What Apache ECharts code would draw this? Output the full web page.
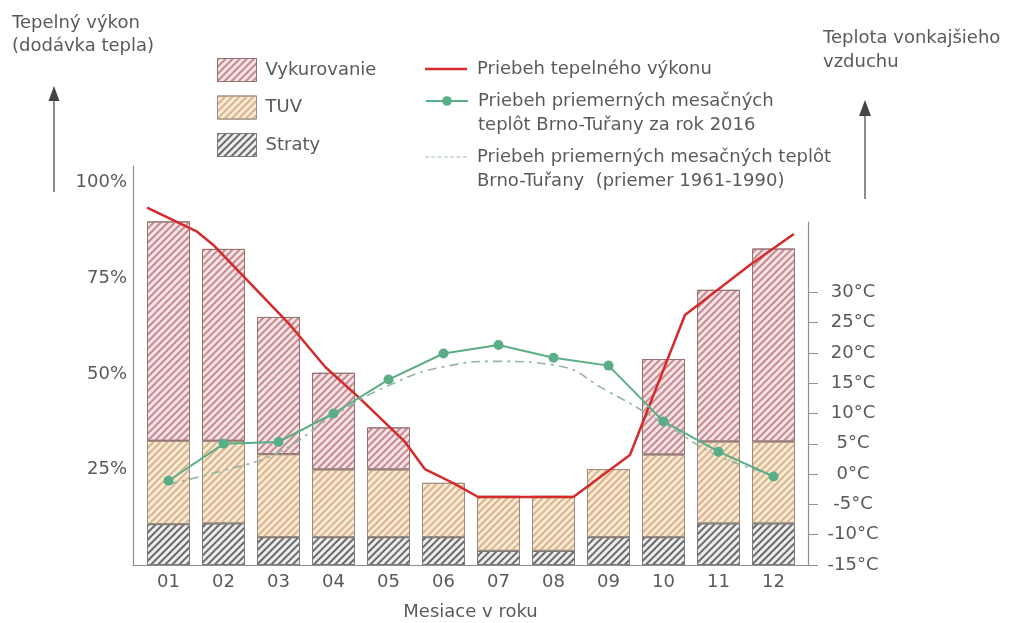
<!DOCTYPE html>
<html>
<head>
<meta charset="utf-8">
<script src="https://cdn.jsdelivr.net/npm/echarts@6/dist/echarts.min.js"></script>
<style>
  html, body { margin: 0; padding: 0; background: #fff; }
  #main { width: 1013px; height: 623px; }
</style>
</head>
<body>
<div id="main"></div>
<script>
// months on the x axis
const months = [1, 2, 3, 4, 5, 6, 7, 8, 9, 10, 11, 12];
const monthLabels = ["01", "02", "03", "04", "05", "06", "07", "08", "09", "10", "11", "12"];

// bar parts in % of heat output
const losses = [10.7, 10.9, 7.3, 7.3, 7.3, 7.3, 3.7, 3.7, 7.3, 7.3, 10.9, 10.9];
const hotWater = [21.8, 21.6, 21.7, 17.7, 17.7, 14.2, 14.4, 14.4, 17.8, 21.6, 21.4, 21.4];
const heating = [57.4, 50.2, 35.9, 25.3, 11.0, 0, 0, 0, 0, 25.0, 39.7, 50.5];

// heat output curve (month position, %)
const powerX = [0.61, 1.52, 1.81, 3.21, 3.85, 4.45, 5.30, 5.66, 6.17, 6.63, 8.36, 9.39, 10.39, 11.57, 12.37];
const powerY = [93.5, 87.2, 83.8, 62.8, 51.8, 44.0, 32.2, 25.1, 21.5, 17.8, 17.8, 28.8, 65.4, 78.5, 86.6];

// monthly mean temperatures, °C
const temp2016 = [-1.1, 5.0, 5.3, 10.0, 15.6, 19.9, 21.3, 19.2, 17.9, 8.7, 3.7, -0.4];
const tempNormal = [-1.6, 0.6, 3.6, 9.6, 14.6, 17.7, 18.6, 18.0, 13.6, 8.4, 3.0, -0.1];

// axis ticks
const percentTicks = [25, 50, 75, 100];
const tempTicks = [-15, -10, -5, 0, 5, 10, 15, 20, 25, 30];

const names = {
  heat: "Vykurovanie",
  water: "TUV",
  loss: "Straty",
  power: "Priebeh tepelného výkonu",
  t2016: "Priebeh priemerných mesačných\nteplôt Brno-Tuřany za rok 2016",
  tNorm: "Priebeh priemerných mesačných teplôt\nBrno-Tuřany  (priemer 1961-1990)"
};

const textColor = "#5a5a5a";
const axisColor = "#8e8e8e";
const font = "DejaVu Sans";

function hatch(color) {
  return {
    symbol: "rect",
    symbolSize: 1,
    dashArrayX: [1, 0],
    dashArrayY: [1.2, 2.4],
    rotation: -Math.PI / 4,
    color: color
  };
}

function pairs(values) {
  return months.map((m, i) => [values[i] > 0 ? values[i] : "-", m]);
}

// legend text with an empty first line so the icon sits on the first real line
const firstLineLegend = (n) => " \n" + n;
const legendText = { fontFamily: font, fontSize: 18, color: textColor, lineHeight: 24, padding: [0, 0, 0, 5] };

var myChart = echarts.init(document.getElementById("main"));

var option = {
  animation: false,
  textStyle: { fontFamily: font },
  title: [
    {
      text: "Tepelný výkon\n(dodávka tepla)",
      left: 12, top: 12, padding: 0,
      textStyle: { fontFamily: font, fontSize: 18, fontWeight: "normal", color: textColor, lineHeight: 23 }
    },
    {
      text: "Teplota vonkajšieho\nvzduchu",
      left: 823, top: 26, padding: 0,
      textStyle: { fontFamily: font, fontSize: 18, fontWeight: "normal", color: textColor, lineHeight: 24 }
    }
  ],
  legend: [
    {
      orient: "vertical", left: 217, top: 58, padding: 0,
      itemWidth: 39, itemHeight: 23, itemGap: 13.5, icon: "rect",
      selectedMode: false,
      itemStyle: { borderWidth: 1 },
      textStyle: { fontFamily: font, fontSize: 18, color: textColor, padding: [0, 0, 0, 4] },
      data: [names.heat, names.water, names.loss]
    },
    {
      left: 425, top: 57, padding: 0,
      itemWidth: 42, itemHeight: 2.5, selectedMode: false,
      textStyle: legendText,
      data: [{ name: names.power, icon: "rect" }]
    },
    {
      left: 425, top: 65, padding: 0,
      itemWidth: 42, itemHeight: 12, selectedMode: false,
      formatter: firstLineLegend,
      textStyle: legendText,
      data: [names.t2016]
    },
    {
      left: 425, top: 121, padding: 0,
      itemWidth: 42, itemHeight: 1.5, selectedMode: false,
      formatter: firstLineLegend,
      textStyle: legendText,
      data: [{
        name: names.tNorm,
        icon: "path://M0,0h4v1h-4zM6,0h4v1h-4zM12,0h4v1h-4zM18,0h4v1h-4zM24,0h4v1h-4zM30,0h4v1h-4zM36,0h4v1h-4z"
      }]
    }
  ],
  grid: [
    { left: 133, right: 205, top: 166, bottom: 58, outerBoundsMode: "none" },
    { left: 133, right: 205, top: 222, bottom: 58, outerBoundsMode: "none" }
  ],
  xAxis: [
    {
      type: "value", gridIndex: 0, min: 0.3545, max: 12.627,
      splitLine: { show: false },
      axisLine: { show: true, lineStyle: { color: axisColor, width: 1.2 } },
      axisTick: { show: false },
      axisLabel: {
        customValues: months,
        formatter: (v) => monthLabels[v - 1],
        margin: 8, fontSize: 18, color: textColor, fontFamily: font
      },
      name: "Mesiace v roku", nameLocation: "middle", nameGap: 38,
      nameTextStyle: { fontSize: 18, color: textColor, fontFamily: font }
    },
    { type: "value", gridIndex: 1, min: 0.3545, max: 12.627, show: false }
  ],
  yAxis: [
    {
      type: "value", gridIndex: 0, min: 0, max: 104.4,
      splitLine: { show: false },
      axisLine: { show: true, lineStyle: { color: axisColor, width: 1.2 } },
      axisTick: { show: false },
      axisLabel: {
        customValues: percentTicks,
        formatter: (v) => v + "%",
        margin: 6, fontSize: 18, color: textColor, fontFamily: font
      }
    },
    {
      type: "value", gridIndex: 1, position: "right", min: -15, max: 41.6,
      splitLine: { show: false },
      axisLine: { show: true, lineStyle: { color: axisColor, width: 1.2 } },
      axisTick: { show: true, length: 10, customValues: tempTicks, lineStyle: { color: axisColor } },
      axisLabel: {
        customValues: tempTicks,
        formatter: (v) => v + "°C",
        align: "center", margin: 45, fontSize: 18, color: textColor, fontFamily: font
      }
    }
  ],
  series: [
    {
      name: names.loss, type: "bar", stack: "all", barWidth: 43,
      xAxisIndex: 0, yAxisIndex: 0, encode: { x: 1, y: 0 },
      itemStyle: { color: "#ededed", borderColor: "#7a7a7a", borderWidth: 1, decal: hatch("#6a6a6a") },
      data: pairs(losses)
    },
    {
      name: names.water, type: "bar", stack: "all", barWidth: 43,
      xAxisIndex: 0, yAxisIndex: 0, encode: { x: 1, y: 0 },
      itemStyle: { color: "#fbe9d2", borderColor: "#9c8c80", borderWidth: 1, decal: hatch("#d6b48f") },
      data: pairs(hotWater)
    },
    {
      name: names.heat, type: "bar", stack: "all", barWidth: 43,
      xAxisIndex: 0, yAxisIndex: 0, encode: { x: 1, y: 0 },
      itemStyle: { color: "#f9e1e4", borderColor: "#947274", borderWidth: 1, decal: hatch("#bf8d92") },
      data: pairs(heating)
    },
    {
      name: names.power, type: "line", xAxisIndex: 0, yAxisIndex: 0,
      symbol: "none", color: "#d42b2b",
      lineStyle: { color: "#d42b2b", width: 2.5 },
      data: powerX.map((x, i) => [x, powerY[i]])
    },
    {
      name: names.tNorm, type: "line", xAxisIndex: 1, yAxisIndex: 1,
      symbol: "none", smooth: true, color: "#a3c2b4",
      lineStyle: { color: "#93b5a5", width: 1.6, type: [9, 5, 3, 5] },
      data: months.map((m, i) => [m, tempNormal[i]])
    },
    {
      name: names.t2016, type: "line", xAxisIndex: 1, yAxisIndex: 1,
      symbol: "circle", symbolSize: 10, color: "#5aae86",
      lineStyle: { color: "#5aae86", width: 2 },
      itemStyle: { color: "#5aae86" },
      data: months.map((m, i) => [m, temp2016[i]])
    }
  ],
  graphic: [
    { type: "line", shape: { x1: 54, y1: 192, x2: 54, y2: 100 }, style: { stroke: "#666", lineWidth: 1.5 } },
    { type: "polygon", shape: { points: [[48.5, 101], [59.5, 101], [54, 86]] }, style: { fill: "#444" } },
    { type: "line", shape: { x1: 865, y1: 199, x2: 865, y2: 114 }, style: { stroke: "#666", lineWidth: 1.5 } },
    { type: "polygon", shape: { points: [[859, 116], [871, 116], [865, 100]] }, style: { fill: "#444" } }
  ]
};

myChart.setOption(option);
</script>
</body>
</html>
